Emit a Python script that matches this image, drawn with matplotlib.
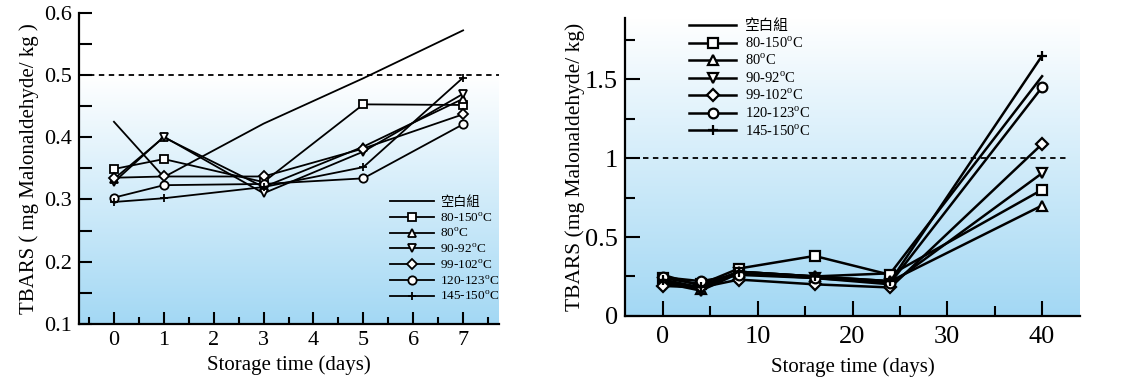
import matplotlib
matplotlib.use("Agg")
import matplotlib.pyplot as plt
import numpy as np
from matplotlib.colors import LinearSegmentedColormap

plt.rcParams['font.family'] = ['Liberation Serif', 'Noto Sans CJK TC']
plt.rcParams['mathtext.fontset'] = 'custom'
plt.rcParams['mathtext.rm'] = 'Liberation Serif'

#series names and markers
labels = ['空白組', r'80-150$^{\mathrm{o}}$C', r'80$^{\mathrm{o}}$C', r'90-92$^{\mathrm{o}}$C',
          r'99-102$^{\mathrm{o}}$C', r'120-123$^{\mathrm{o}}$C', r'145-150$^{\mathrm{o}}$C']
markers = ['', 's', '^', 'v', 'D', 'o', '+']

#left panel data (7 days)
days_a = [0, 1, 3, 5, 7]
a_blank = [0.425, 0.336, 0.422, 0.495, 0.572]
a_80_150 = [0.349, 0.365, 0.328, 0.453, 0.452]
a_80 = [0.333, 0.400, 0.320, 0.385, 0.462]
a_90_92 = [0.328, 0.401, 0.310, 0.377, 0.470]
a_99_102 = [0.335, 0.337, 0.337, 0.382, 0.437]
a_120_123 = [0.303, 0.323, 0.325, 0.334, 0.421]
a_145_150 = [0.296, 0.302, 0.320, 0.352, 0.496]

#right panel data (40 days)
days_b = [0, 4, 8, 16, 24, 40]
b_blank = [0.26, 0.19, 0.28, 0.25, 0.27, 1.52]
b_80_150 = [0.24, 0.20, 0.30, 0.38, 0.26, 0.80]
b_80 = [0.22, 0.17, 0.28, 0.25, 0.22, 0.70]
b_90_92 = [0.21, 0.16, 0.27, 0.24, 0.20, 0.905]
b_99_102 = [0.19, 0.18, 0.23, 0.20, 0.18, 1.09]
b_120_123 = [0.245, 0.22, 0.26, 0.24, 0.21, 1.45]
b_145_150 = [0.23, 0.18, 0.28, 0.25, 0.22, 1.65]

series_a = [a_blank, a_80_150, a_80, a_90_92, a_99_102, a_120_123, a_145_150]
series_b = [b_blank, b_80_150, b_80, b_90_92, b_99_102, b_120_123, b_145_150]

blue = LinearSegmentedColormap.from_list('bg', ['#a3d8f4', '#ffffff'])
grad = np.linspace(0, 1, 256).reshape(-1, 1)

fig = plt.figure(figsize=(11.29, 3.81), dpi=100)
ax1 = fig.add_axes([0.070, 0.150, 0.372, 0.816])
ax2 = fig.add_axes([0.5536, 0.171, 0.403, 0.782])


def style(ax, size):
    for s in ['top', 'right']:
        ax.spines[s].set_visible(False)
    for s in ['left', 'bottom']:
        ax.spines[s].set_linewidth(1.6)
    ax.tick_params(which='both', direction='in', width=1.5, labelsize=size, pad=5)


#left panel
ax1.imshow(grad, cmap=blue, extent=(0, 1, 0, 0.8), transform=ax1.transAxes,
           aspect='auto', origin='lower', zorder=0)
for vals, m, lab in zip(series_a, markers, labels):
    ax1.plot(days_a, vals, color='black', lw=1.3, marker=m, ms=6 if m != 'D' else 5,
             mfc='white', mec='black', mew=1.3, label=lab, zorder=3)
ax1.axhline(0.5, color='black', ls=(0, (3, 2.5)), lw=1.3, zorder=2)
ax1.set_xlim(-0.7, 7.72)
ax1.set_ylim(0.1, 0.6)
ax1.set_xticks(range(0, 8))
ax1.set_xticks(np.arange(-0.5, 7.6, 1), minor=True)
ax1.set_yticks(np.arange(0.1, 0.61, 0.1))
ax1.set_yticklabels(['0.1', '0.2', '0.3', '0.4', '0.5', '0.6'])
ax1.set_yticks(np.arange(0.15, 0.6, 0.1), minor=True)
style(ax1, 16)
ax1.tick_params(axis='y', which='both', length=9)
ax1.tick_params(axis='x', which='major', length=9)
ax1.tick_params(axis='x', which='minor', length=5)
ax1.set_xlabel('Storage time (days)', fontsize=15, labelpad=4)
ax1.set_ylabel('TBARS ( mg Malonaldehyde/ kg )', fontsize=15, labelpad=4)
ax1.legend(loc='lower left', bbox_to_anchor=(0.725, 0.045), frameon=False, fontsize=9.5,
           handlelength=3.3, labelspacing=0.2, borderpad=0, handletextpad=0.5)

#right panel
ax2.imshow(grad, cmap=blue, extent=(0, 1, 0, 1), transform=ax2.transAxes,
           aspect='auto', origin='lower', zorder=0)
for vals, m, lab in zip(series_b, markers, labels):
    ax2.plot(days_b, vals, color='black', lw=1.8, marker=m, ms=7 if m != 'D' else 6,
             mfc='white', mec='black', mew=1.6, label=lab, zorder=3)
ax2.hlines(1.0, -2.1, 42.6, color='black', linestyles=(0, (3, 2.5)), lw=1.3, zorder=2)
ax2.set_xlim(-4, 44)
ax2.set_ylim(0, 1.89)
ax2.set_xticks([0, 10, 20, 30, 40])
ax2.set_xticks([5, 15, 25, 35], minor=True)
ax2.set_yticks([0, 0.5, 1, 1.5])
ax2.set_yticklabels(['0', '0.5', '1', '1.5'])
ax2.set_yticks([0.25, 0.75, 1.25, 1.75], minor=True)
style(ax2, 19)
ax2.tick_params(axis='x', which='both', pad=7)
ax2.tick_params(which='major', length=11)
ax2.tick_params(which='minor', length=7)
ax2.set_xlabel('Storage time (days)', fontsize=15, labelpad=7)
ax2.set_ylabel('TBARS (mg Malonaldehyde/ kg)', fontsize=15.5, labelpad=0)
ax2.legend(loc='upper left', bbox_to_anchor=(0.125, 1.02), frameon=False, fontsize=10.5,
           handlelength=3.2, labelspacing=0.15, borderpad=0, handletextpad=0.6)

fig.savefig('out.png', dpi=100)
